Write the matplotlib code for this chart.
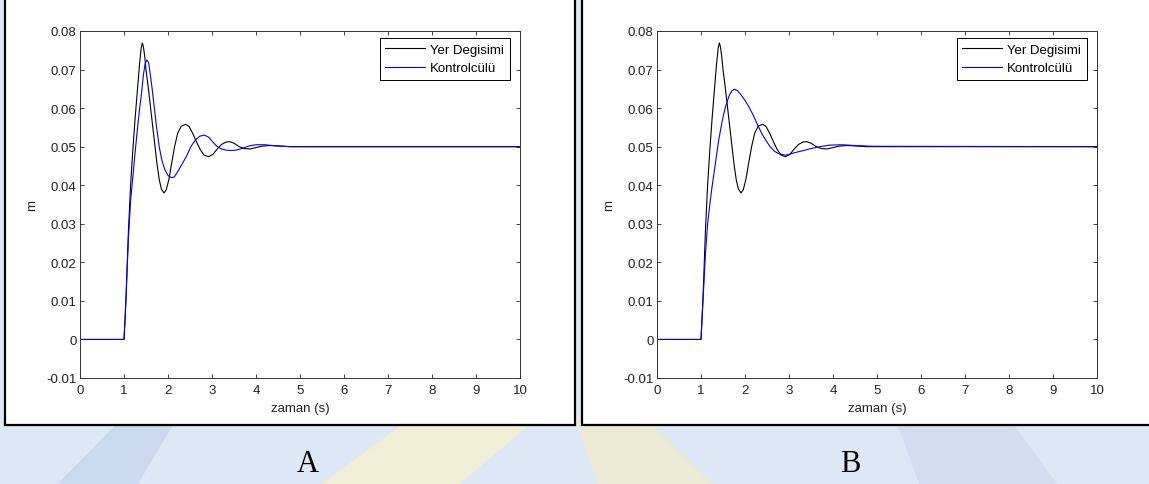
import matplotlib
matplotlib.use("Agg")
import matplotlib.pyplot as plt
from matplotlib.patches import Rectangle, Polygon

plt.rcParams['font.family'] = ['Liberation Sans', 'DejaVu Sans']

# values (time in s, displacement in m)
t_black = [0, 1.0, 1.05, 1.10, 1.15, 1.20, 1.25, 1.30, 1.35, 1.39, 1.416, 1.44, 1.47,
           1.50, 1.55, 1.60, 1.65, 1.70, 1.75, 1.80, 1.85, 1.91, 1.96, 2.02, 2.08,
           2.15, 2.22, 2.30, 2.40, 2.48, 2.56, 2.65, 2.73, 2.82, 2.92, 3.02, 3.12,
           3.22, 3.32, 3.40, 3.50, 3.62, 3.74, 3.86, 3.98, 4.12, 4.30, 4.50, 4.75, 10]
y_black = [0, 0, 0.012, 0.028, 0.040, 0.049, 0.057, 0.064, 0.071, 0.0755, 0.0769, 0.0760, 0.0735,
           0.0700, 0.0655, 0.0605, 0.0555, 0.0505, 0.0455, 0.0415, 0.0390, 0.0380, 0.0388, 0.0415, 0.0455,
           0.0500, 0.0535, 0.0553, 0.0558, 0.0552, 0.0535, 0.0512, 0.0493, 0.0478, 0.0474, 0.0480, 0.0494,
           0.0506, 0.0512, 0.0513, 0.0509, 0.0500, 0.0495, 0.0494, 0.0497, 0.0501, 0.0503, 0.0502, 0.0500, 0.0500]

t_blue_a = [0, 1.0, 1.03, 1.06, 1.10, 1.15, 1.20, 1.24, 1.30, 1.35, 1.39, 1.44, 1.48, 1.52,
            1.56, 1.60, 1.64, 1.68, 1.73, 1.80, 1.86, 1.93, 2.00, 2.07, 2.14, 2.22, 2.32,
            2.42, 2.52, 2.62, 2.72, 2.82, 2.92, 3.02, 3.12, 3.22, 3.32, 3.42, 3.55, 3.70,
            3.85, 4.0, 4.2, 4.45, 4.8, 10]
y_blue_a = [0, 0, 0.006, 0.015, 0.026, 0.036, 0.042, 0.047, 0.054, 0.0595, 0.063, 0.0685, 0.0715, 0.0725,
            0.0718, 0.0685, 0.065, 0.061, 0.056, 0.050, 0.0465, 0.0440, 0.0425, 0.0420, 0.0421, 0.0435, 0.0455,
            0.0475, 0.0500, 0.0517, 0.0527, 0.0530, 0.0525, 0.0512, 0.0500, 0.0494, 0.0491, 0.0490, 0.0491, 0.0496,
            0.0502, 0.0505, 0.0505, 0.0502, 0.0500, 0.0500]

t_blue_b = [0, 1.0, 1.05, 1.10, 1.15, 1.20, 1.25, 1.30, 1.35, 1.40, 1.455, 1.50, 1.56, 1.64,
            1.70, 1.757, 1.82, 1.90, 2.00, 2.08, 2.18, 2.30, 2.40, 2.50, 2.57, 2.67, 2.78,
            2.91, 3.00, 3.15, 3.33, 3.50, 3.70, 3.93, 4.2, 4.5, 4.9, 10]
y_blue_b = [0, 0, 0.011, 0.022, 0.030, 0.035, 0.0395, 0.0435, 0.0475, 0.0515, 0.0550, 0.0577, 0.0605, 0.0632,
            0.0645, 0.0649, 0.0646, 0.0636, 0.0620, 0.0605, 0.0583, 0.0553, 0.0530, 0.0512, 0.0500, 0.0488, 0.0481,
            0.0478, 0.0480, 0.0485, 0.0490, 0.0495, 0.0500, 0.0504, 0.0505, 0.0503, 0.0501, 0.0500]

x_ticks = [0, 1, 2, 3, 4, 5, 6, 7, 8, 9, 10]
y_ticks = [-0.01, 0, 0.01, 0.02, 0.03, 0.04, 0.05, 0.06, 0.07, 0.08]
legend_labels = ["Yer Degisimi", "Kontrolcülü"]
panel_labels = ["A", "B"]

W, H = 1149, 485
fig = plt.figure(figsize=(W / 100, H / 100), dpi=100, facecolor="#dde8f6")

# faint watermark shapes behind the frames
fig.add_artist(Polygon([(0.28, 0.0), (0.40, 0.0), (0.47, 0.14), (0.36, 0.14)], closed=True,
                       transform=fig.transFigure, facecolor="#f1eed6", edgecolor="none", zorder=-3))
fig.add_artist(Polygon([(0.52, 0.0), (0.62, 0.0), (0.56, 0.14), (0.50, 0.14)], closed=True,
                       transform=fig.transFigure, facecolor="#ece9d4", edgecolor="none", zorder=-3))
fig.add_artist(Polygon([(0.05, 0.0), (0.12, 0.0), (0.15, 0.12), (0.10, 0.12)], closed=True,
                       transform=fig.transFigure, facecolor="#cbd9ee", edgecolor="none", zorder=-3))
fig.add_artist(Polygon([(0.80, 0.0), (0.92, 0.0), (0.88, 0.13), (0.78, 0.13)], closed=True,
                       transform=fig.transFigure, facecolor="#d2def0", edgecolor="none", zorder=-3))

# white framed boxes around each panel
frames = [(5, 575), (582, 1170)]
for x0, x1 in frames:
    fig.add_artist(Rectangle((x0 / W, 1 - 426 / H), (x1 - x0) / W, 426 / H + 0.05,
                             transform=fig.transFigure, facecolor="white",
                             edgecolor="black", linewidth=1.6, zorder=-1))

blue_series = [(t_blue_a, y_blue_a), (t_blue_b, y_blue_b)]
axes_left = [80, 657]
label_x = [308, 850]

for i in range(2):
    ax = fig.add_axes([axes_left[i] / W, 1 - 379 / H, 440 / W, 347 / H])
    ax.plot(t_black, y_black, color="black", linewidth=0.8, label=legend_labels[0])
    ax.plot(blue_series[i][0], blue_series[i][1], color="blue", linewidth=0.8, label=legend_labels[1])

    ax.set_xlim(0, 10)
    ax.set_ylim(-0.01, 0.08)
    ax.set_xticks(x_ticks)
    ax.set_xticklabels([f"{v:g}" for v in x_ticks])
    ax.set_yticks(y_ticks)
    ax.set_yticklabels([f"{v:g}" for v in y_ticks])
    ax.tick_params(direction="in", length=3, width=0.6, top=True, right=True,
                   labelsize=9.5, colors="#222222")
    ax.tick_params(axis="x", pad=4)
    ax.tick_params(axis="y", pad=2.5)
    for sp in ax.spines.values():
        sp.set_linewidth(0.7)
        sp.set_color("#333333")

    ax.set_xlabel("zaman (s)", fontsize=9.5, color="#222222")
    ax.set_ylabel("m", fontsize=9.5, color="#222222")
    ax.xaxis.set_label_coords(0.5, -0.069)
    ax.yaxis.set_label_coords(-0.095, 0.5)

    leg = ax.legend(loc="upper right", bbox_to_anchor=(0.977, 0.980), borderaxespad=0,
                    fontsize=9.5, fancybox=False, framealpha=1, edgecolor="black",
                    handlelength=3.0, handletextpad=0.38, labelspacing=0.45, borderpad=0.45)
    leg.get_frame().set_linewidth(0.7)

    fig.text(label_x[i] / W, 1 - 465 / H, panel_labels[i], ha="center", va="center",
             fontsize=22, family="Liberation Serif", color="black")

fig.savefig("out.png", dpi=100, facecolor=fig.get_facecolor())
